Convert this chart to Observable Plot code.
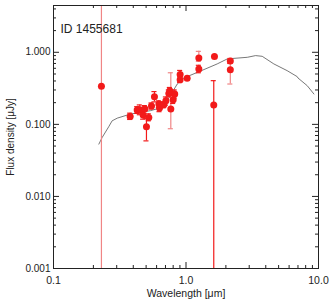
<!DOCTYPE html>
<html><head><meta charset="utf-8">
<script src="https://cdn.jsdelivr.net/npm/d3@7"></script>
<script src="https://cdn.jsdelivr.net/npm/@observablehq/plot@0.6"></script>
<style>body{margin:0;background:#fff;} svg{font-family:"Liberation Sans",Arial,sans-serif;}</style>
</head><body><div id="chart"></div>
<script>
// Photometry
const wavelength = [0.230, 0.379, 0.428, 0.448, 0.475, 0.489, 0.503, 0.524, 0.549, 0.578, 0.624, 0.631, 0.680, 0.705, 0.742, 0.755, 0.768, 0.800, 0.822, 0.903, 0.903, 1.02, 1.25, 1.25, 1.64, 1.62, 2.16, 2.16];
const flux       = [0.337, 0.129, 0.158, 0.159, 0.135, 0.165, 0.0926, 0.125, 0.180, 0.242, 0.191, 0.169, 0.187, 0.213, 0.269, 0.293, 0.163, 0.220, 0.264, 0.490, 0.417, 0.435, 0.836, 0.588, 0.871, 0.186, 0.759, 0.574];
const fluxLow    = [1e-4, 0.117, 0.142, 0.136, 0.118, 0.150, 0.059, 0.112, 0.163, 0.205, 0.172, 0.150, 0.170, 0.185, 0.240, 0.265, 0.087, 0.195, 0.232, 0.43, 0.38, 0.435, 0.75, 0.52, 0.871, 1e-4, 0.70, 0.363];
const fluxHigh   = [100, 0.143, 0.176, 0.186, 0.150, 0.182, 0.120, 0.140, 0.198, 0.285, 0.212, 0.188, 0.206, 0.240, 0.300, 0.325, 0.52, 0.250, 0.300, 0.56, 0.455, 0.435, 1.03, 0.66, 0.871, 0.404, 0.82, 0.81];
const errorSet   = ["B","A","A","A","A","A","A","A","A","A","A","A","A","A","A","A","B","A","A","A","A","A","B","A","A","A","A","B"];
// Model SED
const modelWavelength = [0.220, 0.233, 0.261, 0.277, 0.303, 0.381, 0.540, 0.661, 0.721, 0.859, 0.962, 1.22, 1.72, 2.05, 2.90, 3.35, 3.76, 4.60, 5.80, 6.91, 7.0, 8.22, 9.23];
const modelFlux       = [0.0532, 0.0658, 0.0927, 0.112, 0.122, 0.139, 0.155, 0.172, 0.213, 0.363, 0.440, 0.527, 0.690, 0.810, 0.852, 0.90, 0.88, 0.690, 0.556, 0.459, 0.440, 0.344, 0.264];
// Axes
const xMajor = [0.1, 1, 10];
const xLabels = ["0.1", "1.0", "10.0"];
const yMajor = [0.001, 0.01, 0.1, 1];
const yLabels = ["0.001", "0.010", "0.100", "1.000"];
const yMax = 4.46;

const points = wavelength.map((w, i) => ({w, f: flux[i], lo: fluxLow[i], hi: fluxHigh[i], set: errorSet[i]}));
const model = modelWavelength.map((w, i) => ({w, f: modelFlux[i]}));
const xMinor = [0.1, 1].flatMap(d => d3.range(2, 10).map(k => k * d));
const yMinor = yMajor.flatMap(d => d3.range(2, 10).map(k => k * d)).filter(v => v < yMax);
const xLabelOf = new Map(xMajor.map((v, i) => [v, xLabels[i]]));
const yLabelOf = new Map(yMajor.map((v, i) => [v, yLabels[i]]));

const W = 332, H = 302, mL = 53, mR = 14, mT = 5, mB = 34;
const fH = H - mT - mB, fW = W - mL - mR;
const ink = "#222";
const capF = 1.045;

const chart = Plot.plot({
  width: W, height: H,
  marginLeft: mL, marginRight: mR, marginTop: mT, marginBottom: mB,
  style: {fontFamily: "Liberation Sans, Arial, sans-serif", fontSize: "10px", color: ink, background: "#fff"},
  x: {type: "log", domain: [0.1, 10]},
  y: {type: "log", domain: [0.001, yMax]},
  color: {domain: ["A", "B"], range: ["#f21a1a", "#f08585"]},
  marks: [
    // inward ticks
    Plot.ruleX(xMajor, {insetTop: fH - 6, stroke: ink}),
    Plot.ruleX(xMajor, {insetBottom: fH - 6, stroke: ink}),
    Plot.ruleX(xMinor, {insetTop: fH - 3, stroke: ink}),
    Plot.ruleX(xMinor, {insetBottom: fH - 3, stroke: ink}),
    Plot.ruleY(yMajor, {insetRight: fW - 6, stroke: ink}),
    Plot.ruleY(yMajor, {insetLeft: fW - 6, stroke: ink}),
    Plot.ruleY(yMinor, {insetRight: fW - 3, stroke: ink}),
    Plot.ruleY(yMinor, {insetLeft: fW - 3, stroke: ink}),
    Plot.line(model, {x: "w", y: "f", stroke: "#555", strokeWidth: 0.8}),
    Plot.ruleX(points, {x: "w", y1: "lo", y2: "hi", stroke: "set", strokeWidth: 1.2, clip: true}),
    Plot.ruleY(points, {y: "lo", x1: d => d.w / capF, x2: d => d.w * capF, stroke: "set", strokeWidth: 1.2, clip: true}),
    Plot.ruleY(points, {y: "hi", x1: d => d.w / capF, x2: d => d.w * capF, stroke: "set", strokeWidth: 1.2, clip: true}),
    Plot.dot(points, {x: "w", y: "f", r: 3.5, fill: "#f21a1a", stroke: "none"}),
    Plot.frame({stroke: ink}),
    Plot.axisX({ticks: xMajor, tickFormat: d => xLabelOf.get(d), tickSize: 0, tickPadding: 8,
      label: "Wavelength [μm]", labelAnchor: "center", labelArrow: "none", labelOffset: 28, fontSize: 10.5}),
    Plot.axisY({ticks: yMajor, tickFormat: d => yLabelOf.get(d), tickSize: 0, tickPadding: 3,
      label: "Flux density [μJy]", labelAnchor: "center", labelArrow: "none", labelOffset: 47}),
    Plot.text(["ID 1455681"], {frameAnchor: "top-left", dx: 7, dy: 19, text: d => d, fontSize: 12, textAnchor: "start", fill: ink})
  ]
});
document.getElementById("chart").appendChild(chart);
</script>
</body></html>
